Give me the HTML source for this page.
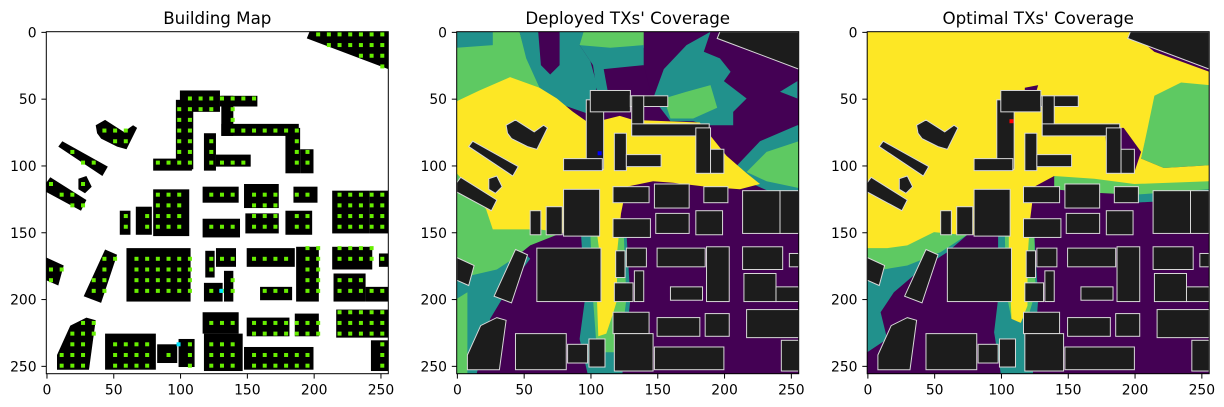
<!DOCTYPE html>
<html><head><meta charset="utf-8">
<style>
html,body{margin:0;padding:0;background:#fff;}
svg{display:block;font-family:"DejaVu Sans","Liberation Sans",sans-serif;}
</style></head>
<body>
<svg id="fig" width="1224" height="407" viewBox="0 0 1224 407" xmlns="http://www.w3.org/2000/svg"></svg>
<script>
// ---------- data ----------
const tickValues = [0, 50, 100, 150, 200, 250];
const panelTitles = ["Building Map", "Deployed TXs' Coverage", "Optimal TXs' Coverage"];
const buildingRects = [
 [97,51,110,103],[80,95,109,104],[100,44,130,60],[130,48,158,56],[131,48,140,78],[131,69,189,78],
 [179,72,190,106],[190,88,200,106],[118,76,127,104],[127,92,153,101],
 [80,118,107,153],[67,131,79,152],[55,134,63,152],[117,116,144,128],[117,140,145,154],
 [148,114,174,132],[149,136,174,151],[185,116,203,128],[179,134,199,152],[214,119,242,151],[242,119,256,151],
 [60,162,108,202],[119,164,126,184],[127,162,142,176],[118,188,132,202],[133,179,140,202],
 [150,162,186,176],[160,191,184,201],[187,161,204,202],[214,161,244,178],[215,181,239,202],[239,191,256,202],[249,166,256,176],
 [117,210,144,226],[118,226,147,254],[150,214,182,228],[186,211,204,228],[217,208,256,229],[243,231,256,254],
 [148,236,200,253],[44,226,82,253],[83,234,98,248],[99,230,111,251]
];
const buildingPolys = [
 [[197,0],[256,0],[256,28],[195,5]],
 [[37,70],[44,66],[58,75],[65,70],[68,72],[60,88],[53,86],[41,80],[38,76]],
 [[9,86],[12,82],[46,101],[42,108]],
 [[24,110],[30,108],[34,116],[29,121],[24,118]],
 [[0,113],[3,109],[30,126],[26,134],[0,120]],
 [[44,163],[53,167],[41,203],[28,198]],
 [[0,169],[13,175],[9,190],[0,186]],
 [[30,214],[37,216],[32,253],[8,253],[8,242],[18,220]]
];
const deployedGreen = [
 [[0,0],[47,0],[52,18],[60,35],[80,55],[97,67],[80,150],[55,160],[30,180],[8,200],[0,205]],
 [[87,0],[140,0],[140,12],[115,14],[100,15],[92,10]]
];
const deployedTeal = [
 [[0,0],[27,0],[27,10],[0,12]],
 [[47,0],[95,0],[92,10],[100,22],[105,40],[100,62],[80,55],[62,42],[52,20]],
 [[92,10],[115,12],[140,10],[140,40],[118,52],[105,45],[102,25]],
 [[147,50],[155,28],[172,10],[190,0],[185,15],[197,20],[205,30],[200,37],[217,50],[207,60],[207,70],[187,70],[177,67],[160,67]],
 [[210,100],[227,82],[255,70],[256,70],[256,125],[235,120],[217,112]],
 [[242,45],[255,37],[255,50]],
 [[0,185],[30,178],[50,165],[55,170],[40,190],[25,215],[15,256],[0,256]],
 [[93,150],[127,150],[130,200],[124,256],[98,256],[92,230],[96,200]]
];
const deployedPurple = [
 [[61,0],[77,0],[77,25],[70,32],[63,25]],
 [[110,28],[140,25],[145,45],[137,52],[115,55]]
];
const deployedGreen2 = [
 [[155,50],[172,45],[190,40],[195,57],[177,65],[160,65]],
 [[217,105],[232,90],[256,82],[256,117],[232,112]],
 [[0,200],[8,195],[8,256],[0,256]],
 [[100,150],[125,150],[127,200],[122,240],[105,240],[102,200]]
];
const deployedYellow = [
 [[0,52],[17,44],[40,34],[62,42],[75,50],[87,60],[97,67],[110,66],[122,63],[132,66],[182,68],[202,93],[217,106],[227,114],[212,118],[187,116],[162,113],[147,112],[127,116],[123,136],[120,166],[120,201],[117,211],[112,226],[106,228],[105,201],[107,166],[105,151],[82,151],[62,148],[50,148],[27,148],[22,133],[15,123],[0,106]]
];
const optimalTeal = [
 [[0,160],[40,148],[75,152],[60,165],[40,178],[20,195],[10,210],[15,230],[0,240]],
 [[98,150],[125,150],[128,200],[124,256],[100,256],[95,225],[98,200]],
 [[180,115],[256,112],[256,125],[200,128]],
 [[232,68],[245,65],[243,72],[232,73]],
 [[110,38],[135,38],[130,48],[112,52]]
];
const optimalPurple = [
 [[197,0],[256,0],[256,28],[215,15]],
 [[178,72],[192,72],[205,90],[200,105],[180,100]],
 [[118,42],[128,40],[125,50],[118,50]]
];
const optimalGreen = [
 [[0,160],[40,148],[75,152],[55,165],[30,175],[0,180]],
 [[215,45],[235,36],[256,35],[256,100],[222,102],[205,95],[210,70]],
 [[140,105],[200,108],[256,105],[256,118],[200,122],[160,120],[140,118]],
 [[103,150],[125,150],[126,195],[120,215],[108,215],[104,195]]
];
const optimalYellow = [
 [[0,0],[197,0],[215,15],[256,30],[256,40],[235,38],[215,48],[210,72],[205,95],[222,102],[256,100],[256,112],[200,114],[170,110],[140,108],[125,116],[122,140],[120,170],[120,205],[115,218],[108,215],[106,170],[106,152],[70,152],[50,150],[30,160],[15,162],[0,162]]
];
const txDeployed = [[107,91]];
const txOptimal = [[108,67]];
const bsMap = [[131,194],[99,234]];

// ---------- drawing ----------
const NS = "http://www.w3.org/2000/svg";
const svg = document.getElementById('fig');
const panelLefts = [46.3, 456.7, 867.2];
const TOP = 31.7, SIZE = 342, N = 256, S = SIZE / N;
const colors = {purple:"#440154", teal:"#21918c", green:"#5ec962", yellow:"#fde725"};

function el(tag, attrs, parent) {
  const e = document.createElementNS(NS, tag);
  for (const k in attrs) e.setAttribute(k, attrs[k]);
  (parent || svg).appendChild(e);
  return e;
}
function xs(p, v) { return panelLefts[p] + (v + 0.5) * S; }
function ys(v) { return TOP + (v + 0.5) * S; }
function xe(p, v) { return panelLefts[p] + v * S; }
function ye(v) { return TOP + v * S; }
function polyPts(p, pts) { return pts.map(q => xe(p, q[0]).toFixed(1) + "," + ye(q[1]).toFixed(1)).join(" "); }
function inPoly(x, y, pts) {
  let c = false;
  for (let i = 0, j = pts.length - 1; i < pts.length; j = i++) {
    const xi = pts[i][0], yi = pts[i][1], xj = pts[j][0], yj = pts[j][1];
    if (((yi > y) != (yj > y)) && (x < (xj - xi) * (y - yi) / (yj - yi) + xi)) c = !c;
  }
  return c;
}

for (let p = 0; p < 3; p++) {
  const g = el('g', {});
  
  
  const clipId = 'clip' + p;
  const cp = el('clipPath', {id: clipId}, g);
  el('rect', {x: panelLefts[p], y: TOP, width: SIZE, height: SIZE}, cp);
  const img = el('g', {'clip-path': 'url(#' + clipId + ')'}, g);
  
  

  if (p === 0) {
    el('rect', {x: panelLefts[p], y: TOP, width: SIZE, height: SIZE, fill: '#fff'}, img);
  } else {
    el('rect', {x: panelLefts[p], y: TOP, width: SIZE, height: SIZE, fill: colors.purple}, img);
    const layers = p === 1
      ? [[deployedGreen, colors.green], [deployedTeal, colors.teal], [deployedPurple, colors.purple], [deployedGreen2, colors.green], [deployedYellow, colors.yellow]]
      : [[optimalTeal, colors.teal], [optimalGreen, colors.green], [optimalYellow, colors.yellow], [optimalPurple, colors.purple]];
    layers.forEach(([arr, col]) => arr.forEach(poly => {
      const r = el('polygon', {points: polyPts(p, poly), fill: col}, img);
      
      
    }));
  }
  const bFill = p === 0 ? '#000' : '#1c1c1c';
  const bStroke = p === 0 ? 'none' : '#d8d8d8';
  buildingRects.forEach(b => {
    const r = el('rect', {x: xe(p, b[0]), y: ye(b[1]), width: (b[2] - b[0]) * S, height: (b[3] - b[1]) * S, fill: bFill, stroke: bStroke, 'stroke-width': 1}, img);
    
    
  });
  buildingPolys.forEach(b => {
    const r = el('polygon', {points: polyPts(p, b), fill: bFill, stroke: bStroke, 'stroke-width': 1}, img);
    
    
  });
  if (p === 0) {
    for (let gx = 3.5; gx < 256; gx += 8) {
      for (let gy = 2; gy < 256; gy += 8) {
        let inside = buildingRects.some(b => gx - 1.5 >= b[0] && gx + 1.5 <= b[2] + 1 && gy - 1.5 >= b[1] - 1 && gy + 1.5 <= b[3] + 1);
        if (!inside) inside = buildingPolys.some(b => inPoly(gx, gy, b));
        if (inside) {
          const d = el('rect', {x: xe(0, gx - 1.5), y: ye(gy - 1.5), width: 3 * S, height: 3 * S, fill: '#66ee00'}, img);
          
          
        }
      }
    }
    bsMap.forEach(t => {
      const d = el('rect', {x: xe(0, t[0] - 1.5), y: ye(t[1] - 1.5), width: 3 * S, height: 3 * S, fill: '#00e5ff'}, img);
      
      
    });
  }
  const txs = p === 1 ? txDeployed : p === 2 ? txOptimal : [];
  txs.forEach(t => {
    const d = el('rect', {x: xe(p, t[0] - 1.5), y: ye(t[1] - 1.5), width: 3 * S, height: 3 * S, fill: p === 1 ? '#0000ff' : '#ff0000'}, img);
    
    
  });

  const fr = el('rect', {x: panelLefts[p], y: TOP, width: SIZE, height: SIZE, fill: 'none', stroke: '#000', 'stroke-width': 1}, g);
  
  
  const t = el('text', {x: panelLefts[p] + SIZE / 2, y: 24, 'text-anchor': 'middle', 'font-size': 16.7, fill: '#000'}, g);
  t.textContent = panelTitles[p];
  
  
  tickValues.forEach(v => {
    const x = xs(p, v), y = ys(v), b = TOP + SIZE, l = panelLefts[p];
    el('line', {x1: x, y1: b, x2: x, y2: b + 4.9, stroke: '#000', 'stroke-width': 1}, g);
    const xt = el('text', {x: x, y: b + 21, 'text-anchor': 'middle', 'font-size': 13.9}, g);
    xt.textContent = v;
    
    
    el('line', {x1: l - 4.9, y1: y, x2: l, y2: y, stroke: '#000', 'stroke-width': 1}, g);
    const yt = el('text', {x: l - 9.7, y: y + 5, 'text-anchor': 'end', 'font-size': 13.9}, g);
    yt.textContent = v;
    
    
  });
}
</script>
</body></html>
